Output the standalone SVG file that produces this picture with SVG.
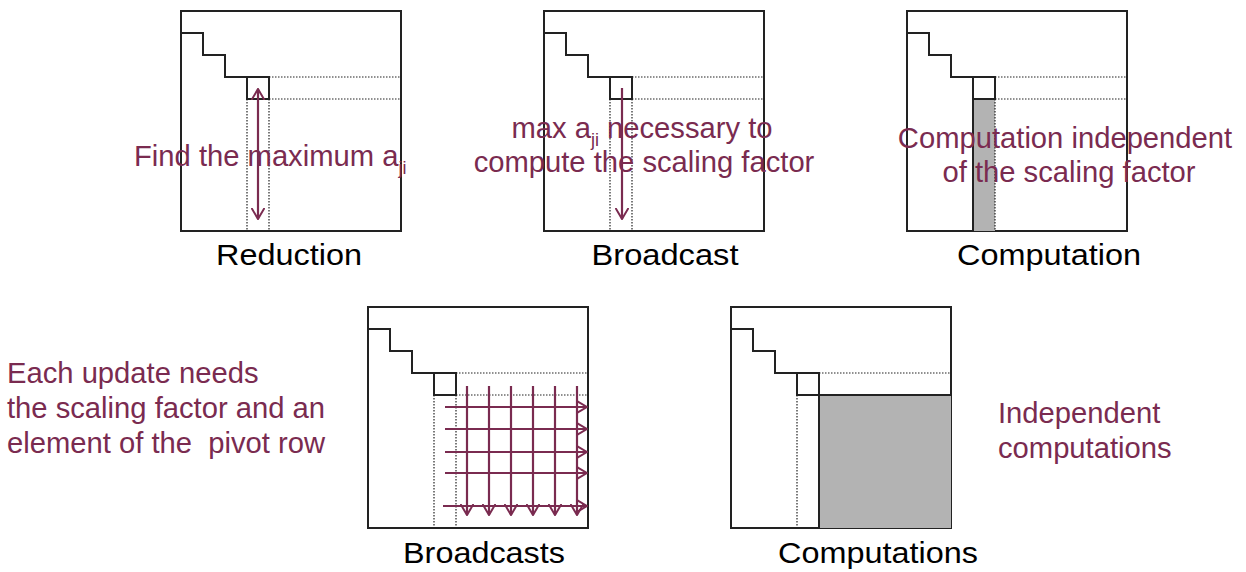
<svg xmlns="http://www.w3.org/2000/svg" width="1246" height="572" viewBox="0 0 1246 572">
<defs>
<style>
.frame{fill:none;stroke:#222;stroke-width:2}
.step{fill:none;stroke:#222;stroke-width:2}
.dot{fill:none;stroke:#222;stroke-width:1.2;stroke-dasharray:1.5 1.5}
.arr{fill:none;stroke:#7A2B50;stroke-width:2.2}
.note{font-family:"Liberation Sans",Arial,sans-serif;font-size:29.2px;fill:#7A2B50}
.sub{font-size:18px}
.lbl{font-family:"Liberation Sans",Arial,sans-serif;font-size:29.5px;fill:#000;text-anchor:middle}
.gray{fill:#B3B3B3}
</style>
<marker id="ah" viewBox="0 0 12 14" refX="11" refY="7" markerWidth="12" markerHeight="14" markerUnits="userSpaceOnUse" orient="auto-start-reverse">
<path d="M0,0.5 L11,7 L0,13.5" fill="none" stroke="#7A2B50" stroke-width="2"/>
</marker>
</defs>
<rect width="1246" height="572" fill="#fff"/>

<g id="reduction">
<rect class="frame" x="181" y="11" width="220" height="220"/>
<path class="step" d="M181,33 H203 V55 H225 V77 H247"/>
<rect class="step" x="247" y="77" width="22" height="22"/>
<path class="dot" d="M269,77 H401 M269,99 H401 M247,99 V231 M269,99 V231"/>
<text class="lbl" x="289" y="265" textLength="146" lengthAdjust="spacingAndGlyphs">Reduction</text>
</g>

<g id="broadcast">
<rect class="frame" x="544" y="11" width="220" height="220"/>
<path class="step" d="M544,33 H566 V55 H588 V77 H610"/>
<rect class="step" x="610" y="77" width="22" height="22"/>
<path class="dot" d="M632,77 H764 M632,99 H764 M610,99 V231 M632,99 V231"/>
<text class="lbl" x="665" y="265" textLength="147" lengthAdjust="spacingAndGlyphs">Broadcast</text>
</g>

<g id="computation">
<rect class="frame" x="907" y="11" width="220" height="220"/>
<rect class="gray" x="973" y="99" width="22" height="132"/>
<path class="step" d="M907,33 H929 V55 H951 V77 H973"/>
<rect class="step" x="973" y="77" width="22" height="22"/>
<path class="step" d="M973,99 V231"/>
<path class="dot" d="M995,77 H1127 M995,99 H1127 M995,99 V231"/>
<text class="lbl" x="1049" y="265" textLength="184" lengthAdjust="spacingAndGlyphs">Computation</text>
</g>

<g id="broadcasts">
<rect class="frame" x="368" y="307" width="220" height="221"/>
<path class="step" d="M368,329 H390 V351 H412 V373 H434"/>
<rect class="step" x="434" y="373" width="22" height="22"/>
<path class="dot" d="M456,373 H588 M456,395 H588 M434,395 V528 M456,395 V528"/>
<text class="lbl" x="484" y="563" textLength="162" lengthAdjust="spacingAndGlyphs">Broadcasts</text>
</g>

<g id="computations">
<rect class="frame" x="731" y="307" width="220" height="221"/>
<rect class="gray" x="819" y="395" width="132" height="133"/>
<path class="step" d="M731,329 H753 V351 H775 V373 H797"/>
<rect class="step" x="797" y="373" width="22" height="22"/>
<path class="step" d="M819,528 V395 H951"/>
<path class="dot" d="M819,373 H951 M797,395 V528"/>
<text class="lbl" x="878" y="563" textLength="200" lengthAdjust="spacingAndGlyphs">Computations</text>
</g>

<g id="connectors">
<line class="arr" x1="258" y1="89" x2="258" y2="219" marker-start="url(#ah)" marker-end="url(#ah)"/>
<line class="arr" x1="622" y1="88" x2="622" y2="219" marker-end="url(#ah)"/>
<line class="arr" x1="467" y1="386" x2="467" y2="515" marker-end="url(#ah)"/>
<line class="arr" x1="489" y1="386" x2="489" y2="515" marker-end="url(#ah)"/>
<line class="arr" x1="511" y1="386" x2="511" y2="515" marker-end="url(#ah)"/>
<line class="arr" x1="533" y1="386" x2="533" y2="515" marker-end="url(#ah)"/>
<line class="arr" x1="555" y1="386" x2="555" y2="515" marker-end="url(#ah)"/>
<line class="arr" x1="577" y1="386" x2="577" y2="515" marker-end="url(#ah)"/>
<line class="arr" x1="445" y1="407" x2="587" y2="407" marker-end="url(#ah)"/>
<line class="arr" x1="445" y1="429" x2="587" y2="429" marker-end="url(#ah)"/>
<line class="arr" x1="445" y1="452" x2="587" y2="452" marker-end="url(#ah)"/>
<line class="arr" x1="445" y1="473" x2="587" y2="473" marker-end="url(#ah)"/>
<line class="arr" x1="443" y1="506" x2="587" y2="506" marker-end="url(#ah)"/>
</g>

<g id="notes">
<text class="note" x="134" y="166">Find the maximum a<tspan class="sub" dy="8">ji</tspan></text>
<text class="note" x="642" y="138" text-anchor="middle">max a<tspan class="sub" dy="8">ji</tspan><tspan dy="-8"> necessary to</tspan></text>
<text class="note" x="644" y="172" text-anchor="middle">compute the scaling factor</text>
<text class="note" x="1065" y="148" text-anchor="middle">Computation independent</text>
<text class="note" x="1069" y="182" text-anchor="middle">of the scaling factor</text>
<text class="note" x="7" y="383">Each update needs</text>
<text class="note" x="7" y="418">the scaling factor and an</text>
<text class="note" x="7" y="453" xml:space="preserve">element of the  pivot row</text>
<text class="note" x="998" y="423">Independent</text>
<text class="note" x="998" y="458">computations</text>
</g>
</svg>
